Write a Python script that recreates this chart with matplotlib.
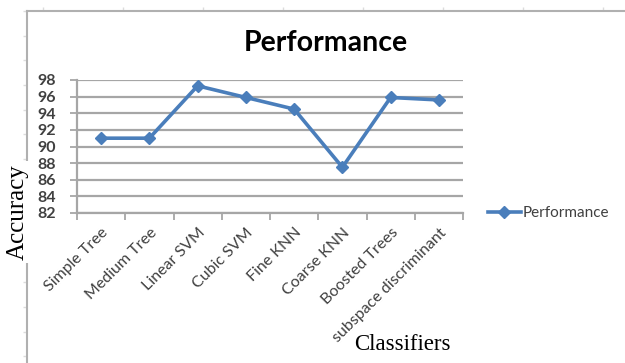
import numpy as np
import matplotlib.pyplot as plt

# accuracy per classifier
classifiers = ['Simple Tree', 'Medium Tree', 'Linear SVM', 'Cubic SVM',
               'Fine KNN', 'Coarse KNN', 'Boosted Trees', 'subspace discriminant']
accuracy = [91.0, 91.0, 97.3, 95.9, 94.5, 87.5, 95.9, 95.6]
yticks = [82, 84, 86, 88, 90, 92, 94, 96, 98]

W, H = 625, 363
fig = plt.figure(figsize=(W / 100, H / 100), dpi=100)

# faint outer frame (left and top edges only)
frame = fig.add_axes([27 / W, -0.05, 1 - 27 / W + 0.05, 1.05 - 11 / H])
frame.set_facecolor('none')
for s in ['right', 'bottom']:
    frame.spines[s].set_visible(False)
for s in ['left', 'top']:
    frame.spines[s].set_color('#b0b0b0')
    frame.spines[s].set_linewidth(1.5)
frame.set_xlim(0, 1)
frame.set_ylim(0, 1)
frame.xaxis.tick_top()
frame.set_xticks(np.arange(16, 600, 80) / (W - 27 + 0.05 * W))
frame.set_yticks(1 - (np.arange(11, 400, 25) - 11) / (1.05 * H - 11))
frame.tick_params(colors='#dcdcdc', length=3, width=1, labelleft=False, labeltop=False)

ax = fig.add_axes([77 / W, 1 - 213 / H, (463 - 77) / W, (213 - 80) / H])
x = np.arange(len(classifiers))
ax.plot(x, accuracy, color='#4a7ebb', lw=2.6, marker='D', ms=6.5,
        label='Performance', zorder=3, clip_on=False)

ax.set_xlim(-0.5, len(classifiers) - 0.5)
ax.set_ylim(82, 98)
ax.set_yticks(yticks)
ax.set_yticklabels([str(v) for v in yticks], fontfamily='Lato', fontweight='bold',
                   fontsize=11.5, color='#404040')
ax.yaxis.grid(True, color='#a6a6a6', lw=1.6)
ax.set_axisbelow(True)

ax.set_xticks(np.arange(-0.5, len(classifiers)), minor=False)
ax.set_xticklabels([])
ax.set_xticks(x, minor=True)
ax.set_xticklabels(classifiers, minor=True, rotation=45, ha='right',
                   rotation_mode='anchor', fontfamily='Lato', fontsize=11.5,
                   color='#404040')
ax.tick_params(axis='x', which='minor', length=0, pad=9)
ax.tick_params(axis='x', which='major', length=5, color='#a6a6a6', width=1.3)
ax.tick_params(axis='y', length=5, color='#a6a6a6', width=1.3, pad=10)

for s in ['top', 'right']:
    ax.spines[s].set_visible(False)
for s in ['left', 'bottom']:
    ax.spines[s].set_color('#a6a6a6')
    ax.spines[s].set_linewidth(1.6)

fig.text(326 / W, 1 - 43 / H, 'Performance', ha='center', va='center',
         fontfamily='Lato', fontweight='bold', fontsize=20.5, color='black')
fig.text(402 / W, 1 - 345 / H, 'Classifiers', ha='center', va='center',
         fontfamily='Liberation Serif', fontsize=16.5, color='black')
fig.text(18 / W, 1 - 212 / H, 'Accuracy', ha='center', va='center', rotation=90,
         fontfamily='Liberation Serif', fontsize=18, color='black',
         bbox=dict(facecolor='white', edgecolor='none', pad=2))

leg = ax.legend(loc='center left', bbox_to_anchor=(480 / W, 1 - 213 / H),
                bbox_transform=fig.transFigure, frameon=False,
                prop={'family': 'Lato', 'size': 11}, handlelength=2.2,
                handletextpad=0.1, borderpad=0)
for t in leg.get_texts():
    t.set_color('#404040')

fig.savefig('out.png', dpi=100)
